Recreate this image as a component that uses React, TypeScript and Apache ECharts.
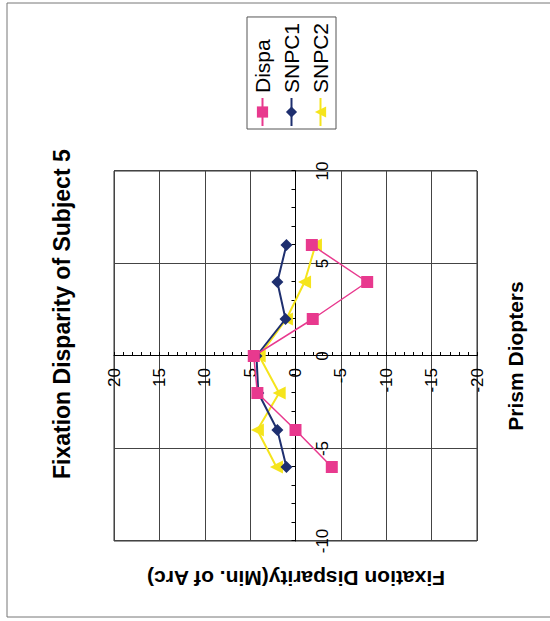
import React, { useEffect, useRef } from "react";
import * as echarts from "echarts";

const titleText = "Fixation Disparity of Subject 5";
const xTitle = "Prism Diopters";
const yTitle = "Fixation Disparity(Min. of Arc)";
const seriesNames = ["Dispa", "SNPC1", "SNPC2"];
const prismDiopters = [-6, -4, -2, 0, 2, 4, 6];
const dispa = [-4.0, 0.0, 4.2, 4.6, -1.9, -7.9, -1.8];
const snpc1 = [1.0, 2.0, 4.1, 4.3, 1.1, 2.0, 1.0];
const snpc2 = [2.1, 4.2, 1.8, 4.0, 1.0, -1.0, -2.2];
const colors = ["#E8398E", "#1E2F6F", "#F5E41C"];
const symbols = ["rect", "diamond", "triangle"];

const FONT = "'Liberation Sans', Arial, sans-serif";
const W = 621;
const H = 550;
const G = { left: 80, right: 171, top: 114, bottom: 73 };

export default function App() {
  const ref = useRef<HTMLDivElement>(null);
  useEffect(() => {
    if (!ref.current) return;
    const chart = echarts.init(ref.current, undefined, { renderer: "svg", width: W, height: H });
    const allData = [dispa, snpc1, snpc2];
    const gridW = W - G.left - G.right;
    const gridH = H - G.top - G.bottom;
    chart.setOption({
      animation: false,
      backgroundColor: "#fff",
      title: {
        text: titleText,
        left: 137,
        top: 45,
        textStyle: { fontFamily: FONT, fontSize: 23, fontWeight: "bold", color: "#000" },
      },
      legend: {
        orient: "vertical",
        left: 492,
        top: 247,
        padding: [5, 6, 5, 2],
        itemGap: 8,
        itemWidth: 28,
        itemHeight: 14,
        borderColor: "#555",
        borderWidth: 1,
        data: seriesNames,
        textStyle: { fontFamily: FONT, fontSize: 21, color: "#000" },
      },
      grid: {
        ...G,
        show: true,
        borderColor: "#333",
        borderWidth: 1,
      },
      xAxis: {
        type: "value",
        min: -10,
        max: 10,
        interval: 5,
        position: "bottom",
        offset: -gridH / 2,
        axisLine: { onZero: false, lineStyle: { color: "#000", width: 1 } },
        axisTick: { show: true, inside: true, length: 4, lineStyle: { color: "#000" } },
        minorTick: { show: true, splitNumber: 5, length: 4, lineStyle: { color: "#000" } },
        splitLine: { show: true, lineStyle: { color: "#444", width: 1 } },
        axisLabel: { fontFamily: FONT, fontSize: 17, color: "#000", margin: 18 },
      },
      yAxis: {
        type: "value",
        min: -20,
        max: 20,
        interval: 5,
        position: "left",
        offset: -gridW / 2,
        axisLine: { onZero: false, lineStyle: { color: "#000", width: 1 } },
        axisTick: { show: true, inside: true, length: 4, lineStyle: { color: "#000" } },
        minorTick: { show: true, splitNumber: 5, length: 4, lineStyle: { color: "#000" } },
        splitLine: { show: true, lineStyle: { color: "#444", width: 1 } },
        axisLabel: { fontFamily: FONT, fontSize: 17, color: "#000", margin: 12 },
      },
      graphic: [
        {
          type: "rect",
          shape: { x: 4, y: 7, width: 614, height: 600 },
          style: { fill: "none", stroke: "#777", lineWidth: 1 },
          silent: true,
          z: -1,
        },
        {
          type: "text",
          x: 265,
          y: 515,
          style: {
            text: xTitle,
            fontFamily: FONT,
            fontSize: 21,
            fontWeight: "bold",
            fill: "#000",
            align: "center",
            verticalAlign: "middle",
          },
        },
        {
          type: "text",
          x: 43,
          y: 296,
          rotation: Math.PI / 2,
          style: {
            text: yTitle,
            fontFamily: FONT,
            fontSize: 21,
            fontWeight: "bold",
            fill: "#000",
            align: "center",
            verticalAlign: "middle",
          },
        },
      ],
      series: seriesNames.map((name, i) => ({
        name,
        type: "line",
        data: prismDiopters.map((x, j) => [x, allData[i][j]]),
        symbol: symbols[i],
        symbolSize: i === 2 ? 13 : 12,
        lineStyle: { color: colors[i], width: i === 0 ? 1.5 : 2 },
        itemStyle: { color: colors[i] },
        z: 3 - i,
      })),
    });
    return () => chart.dispose();
  }, []);

  return (
    <div style={{ position: "fixed", left: 0, top: 0, width: 550, height: 621, overflow: "hidden", background: "#fff" }}>
      <div
        style={{
          position: "absolute",
          left: 0,
          top: 0,
          width: W,
          height: H,
          transformOrigin: "0 0",
          transform: `translate(0px, ${W}px) rotate(-90deg)`,
        }}
      >
        <div ref={ref} style={{ width: W, height: H }} />
      </div>
    </div>
  );
}
